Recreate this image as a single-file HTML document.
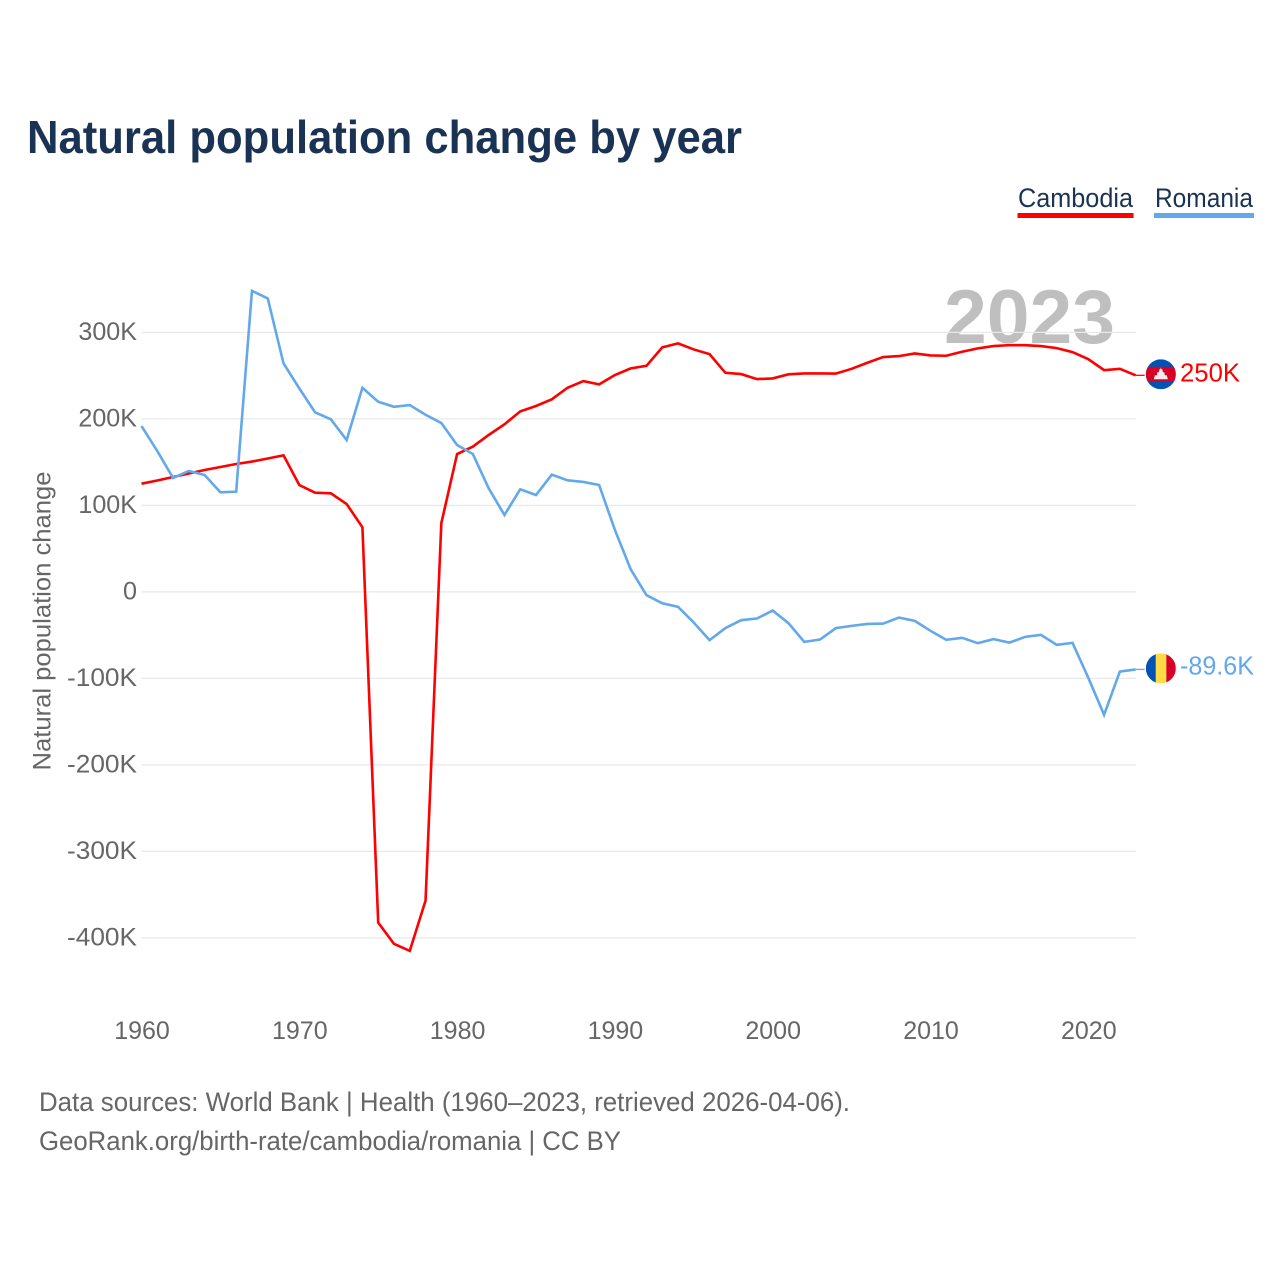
<!DOCTYPE html>
<html lang="en">
<head>
<meta charset="utf-8">
<title>Natural population change by year</title>
<style>
html,body{margin:0;padding:0;background:#fff;}
svg{display:block;font-family:"Liberation Sans",sans-serif;}
</style>
</head>
<body>
<svg id="chart" xmlns="http://www.w3.org/2000/svg" width="1280" height="1280" viewBox="0 0 1280 1280">
  <defs>
    <clipPath id="flag-clip-a"><circle cx="0" cy="0" r="15"/></clipPath>
  </defs>
  <rect x="0" y="0" width="1280" height="1280" fill="#ffffff"/>
  <text x="27" y="153" font-size="46" font-weight="700" fill="#1a3354" textLength="715" lengthAdjust="spacingAndGlyphs">Natural population change by year</text>

  <text x="1018" y="207" font-size="27" fill="#1a3354" textLength="115" lengthAdjust="spacingAndGlyphs">Cambodia</text>
  <rect x="1017.5" y="213" width="116" height="5" fill="#ff0000"/>
  <text x="1155" y="207" font-size="27" fill="#1a3354" textLength="98" lengthAdjust="spacingAndGlyphs">Romania</text>
  <rect x="1154" y="213" width="100" height="5" fill="#63a8ea"/>

  <text x="944" y="343" font-size="76" font-weight="700" fill="#bfbfbf" textLength="171" lengthAdjust="spacingAndGlyphs">2023</text>

  <g id="grid"></g>
  <g id="y-axis"></g>
  <g id="x-axis"></g>
  <text transform="translate(50.5,621) rotate(-90)" text-anchor="middle" font-size="25" fill="#666666" textLength="299" lengthAdjust="spacingAndGlyphs">Natural population change</text>
  <g id="series"></g>
  <g id="end-markers"></g>

  <text x="39" y="1111" font-size="27" fill="#666666" textLength="811" lengthAdjust="spacingAndGlyphs">Data sources: World Bank | Health (1960–2023, retrieved 2026-04-06).</text>
  <text x="39" y="1150" font-size="27" fill="#666666" textLength="582" lengthAdjust="spacingAndGlyphs">GeoRank.org/birth-rate/cambodia/romania | CC BY</text>
</svg>
<script>
const startYear = 1960;
const cambodiaValues = [125.1,128.8,132.8,136.9,140.9,144.4,147.9,150.7,154.2,157.9,123.6,114.7,114,101.6,74.7,-382.3,-406.9,-415,-356.9,79.4,159.4,168,181.4,193.7,208.7,214.9,222.6,236,243.7,239.9,250.7,258.4,261.4,282.7,287.3,280.3,274.9,253.3,251.8,246,246.8,251.5,252.6,252.6,252.4,257.9,264.9,271.5,272.6,275.7,273.4,273,277.6,281.5,284.2,285.3,285.2,284.2,281.8,277.2,269.1,256.4,257.9,250.4];
const romaniaValues = [191.7,162.9,131.7,139.8,135.1,115.2,115.9,348,339.3,264.2,235.3,207.6,199.5,175.6,236,219.8,214,216,204.8,195.2,169.8,159.4,119.8,88.9,118.6,112,135.5,129,127.1,123.6,71.6,26.2,-3.8,-13.1,-17.3,-35.5,-55.8,-41.9,-32.7,-30.8,-21.6,-36.2,-57.8,-55.1,-41.9,-39.3,-37,-36.6,-29.7,-33.5,-45,-55.4,-53.1,-59.3,-54.6,-58.6,-52,-49.7,-61.2,-58.9,-99.3,-142.1,-92.1,-89.6];
const yTickValues = [300,200,100,0,-100,-200,-300,-400];
const yTickLabels = ["300K","200K","100K","0","-100K","-200K","-300K","-400K"];
const xTickYears = [1960,1970,1980,1990,2000,2010,2020];
const cambodiaEndLabel = "250K";
const romaniaEndLabel = "-89.6K";

const NS = "http://www.w3.org/2000/svg";
const xScale = function (year) { return 141.5 + (year - 1960) * 15.78; };
const yScale = function (v) { return 591.9 - v * 0.865; };

function make(tag, parent, attrs, text) {
  const el = document.createElementNS(NS, tag);
  for (const k in attrs) el.setAttribute(k, attrs[k]);
  if (text !== undefined) el.textContent = text;
  parent.appendChild(el);
  return el;
}

const grid = document.getElementById("grid");
const yAxis = document.getElementById("y-axis");
const xAxis = document.getElementById("x-axis");
const seriesGroup = document.getElementById("series");
const endMarkers = document.getElementById("end-markers");

yTickValues.forEach(function (v, i) {
  const line = make("line", grid, {x1: 141.5, x2: 1136, y1: yScale(v), y2: yScale(v), stroke: "#e9e9e9", "stroke-width": 1.3});
  
  
  const label = make("text", yAxis, {x: 137, y: yScale(v) + 7.5, "text-anchor": "end", "font-size": 25, fill: "#666666", textLength: yTickLabels[i].length > 1 ? yTickLabels[i].length * 13.9 + 3 + (yTickLabels[i][0] === "-" ? -2.5 : 0) : 14, lengthAdjust: "spacingAndGlyphs"}, yTickLabels[i]);
  
  
});

xTickYears.forEach(function (yr) {
  const label = make("text", xAxis, {x: xScale(yr) + 0.5, y: 1039, "text-anchor": "middle", "font-size": 25, fill: "#666666"}, String(yr));
  
  
});

function pathFor(values) {
  return values.map(function (v, i) {
    return (i ? "L" : "M") + xScale(startYear + i).toFixed(2) + " " + yScale(v).toFixed(2);
  }).join(" ");
}

const cambodiaLine = make("path", seriesGroup, {d: pathFor(cambodiaValues), fill: "none", stroke: "#ff0000", "stroke-width": 2.6, "stroke-linejoin": "miter"});


const romaniaLine = make("path", seriesGroup, {d: pathFor(romaniaValues), fill: "none", stroke: "#63a8ea", "stroke-width": 2.6, "stroke-linejoin": "miter"});



const lastYear = startYear + cambodiaValues.length - 1;
const endX = xScale(lastYear);
const flagX = endX + 25.2;

// Cambodia end marker
const cy = yScale(cambodiaValues[cambodiaValues.length - 1]);
const cStub = make("line", endMarkers, {x1: endX, x2: endX + 9, y1: cy, y2: cy, stroke: "#ff0000", "stroke-width": 1.3});


const cFlag = make("g", endMarkers, {transform: "translate(" + flagX + "," + (cy - 1) + ")", "clip-path": "url(#flag-clip-a)"});


make("rect", cFlag, {x: -15, y: -15, width: 30, height: 30, fill: "#0052b4"});
make("rect", cFlag, {x: -15, y: -7.5, width: 30, height: 15, fill: "#d80027"});
make("path", cFlag, {d: "M-7 5 L-6 1 L-4 1 L-3.5 -2 L-2 -2 L-1.5 -5 L-0.5 -5 L0 -7 L0.5 -5 L1.5 -5 L2 -2 L3.5 -2 L4 1 L6 1 L7 5 Z", fill: "#eeeeee"});
const cLabel = make("text", endMarkers, {x: 1180, y: cy + 6, "font-size": 26, fill: "#ff0000", textLength: 60, lengthAdjust: "spacingAndGlyphs"}, cambodiaEndLabel);



// Romania end marker
const ry = yScale(romaniaValues[romaniaValues.length - 1]);
const rStub = make("line", endMarkers, {x1: endX, x2: endX + 9, y1: ry, y2: ry, stroke: "#63a8ea", "stroke-width": 1.3});


const rFlag = make("g", endMarkers, {transform: "translate(" + flagX + "," + (ry - 1) + ")", "clip-path": "url(#flag-clip-a)"});


make("rect", rFlag, {x: -15, y: -15, width: 10, height: 30, fill: "#0052b4"});
make("rect", rFlag, {x: -5, y: -15, width: 10.5, height: 30, fill: "#ffda44"});
make("rect", rFlag, {x: 5.5, y: -15, width: 9.5, height: 30, fill: "#d80027"});
const rLabel = make("text", endMarkers, {x: 1180, y: ry + 5, "font-size": 26, fill: "#63a8ea", textLength: 74, lengthAdjust: "spacingAndGlyphs"}, romaniaEndLabel);


</script>
</body>
</html>
